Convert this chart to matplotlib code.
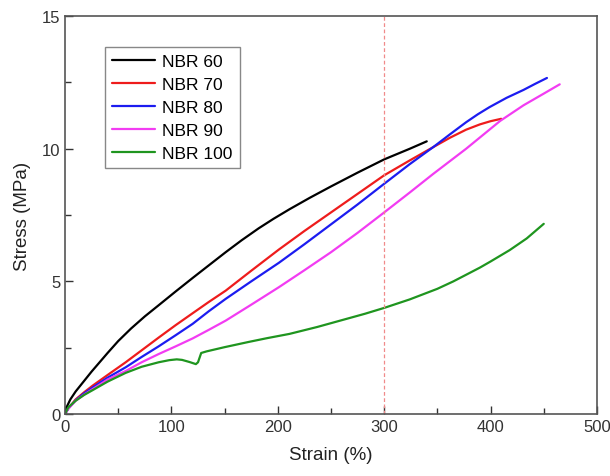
import numpy as np
import matplotlib
matplotlib.use("Agg")
import matplotlib.pyplot as plt
from matplotlib.ticker import MultipleLocator

plt.rcParams['font.family'] = ['Liberation Sans', 'DejaVu Sans']

# stress-strain curves
strain_60 = [0, 2, 5, 10, 17, 25, 40, 50, 62, 75, 88, 104, 120, 135, 151, 166, 182, 196,
             211, 230, 250, 275, 300, 324, 340]
stress_60 = [0, 0.3, 0.55, 0.85, 1.2, 1.6, 2.3, 2.75, 3.22, 3.68, 4.1, 4.62, 5.13, 5.6,
             6.1, 6.55, 7.0, 7.36, 7.72, 8.15, 8.58, 9.1, 9.6, 10.0, 10.28]

strain_70 = [0, 3, 10, 18, 26, 40, 57, 72, 88, 104, 120, 135, 151, 175, 201, 225, 250, 275,
             300, 324, 346, 362, 377, 390, 400, 410]
stress_70 = [0, 0.2, 0.55, 0.82, 1.07, 1.47, 1.95, 2.4, 2.88, 3.35, 3.8, 4.22, 4.65, 5.4,
             6.2, 6.9, 7.6, 8.3, 9.0, 9.56, 10.06, 10.42, 10.72, 10.92, 11.04, 11.13]

strain_80 = [0, 3, 10, 18, 26, 40, 57, 72, 88, 104, 120, 135, 151, 175, 201, 225, 250, 275,
             300, 324, 346, 362, 377, 388, 399, 415, 431, 442, 453]
stress_80 = [0, 0.2, 0.52, 0.78, 1.0, 1.37, 1.76, 2.15, 2.55, 2.97, 3.4, 3.87, 4.34, 5.0,
             5.7, 6.4, 7.15, 7.9, 8.68, 9.42, 10.06, 10.55, 11.0, 11.3, 11.57, 11.92, 12.22,
             12.45, 12.67]

strain_90 = [0, 3, 10, 18, 26, 40, 57, 72, 88, 104, 120, 135, 151, 175, 201, 225, 250, 275,
             300, 324, 346, 377, 409, 431, 450, 465]
stress_90 = [0, 0.2, 0.5, 0.73, 0.94, 1.3, 1.62, 1.95, 2.26, 2.55, 2.85, 3.17, 3.52, 4.12,
             4.78, 5.42, 6.1, 6.83, 7.6, 8.35, 9.05, 10.0, 11.05, 11.64, 12.08, 12.43]

strain_100 = [0, 3, 10, 18, 26, 40, 57, 72, 88, 98, 105, 110, 117, 123, 125, 128, 133, 150,
              173, 190, 211, 237, 264, 282, 300, 324, 350, 365, 378, 390, 400, 418, 434, 450]
stress_100 = [0, 0.25, 0.5, 0.72, 0.9, 1.22, 1.55, 1.78, 1.95, 2.03, 2.06, 2.04, 1.96, 1.88,
              1.95, 2.3, 2.36, 2.52, 2.72, 2.86, 3.02, 3.28, 3.58, 3.78, 4.0, 4.32, 4.72, 5.0,
              5.27, 5.52, 5.75, 6.18, 6.62, 7.17]

curves = [
    ("NBR 60", strain_60, stress_60, "black"),
    ("NBR 70", strain_70, stress_70, "#ee1c1c"),
    ("NBR 80", strain_80, stress_80, "#1c1cf0"),
    ("NBR 90", strain_90, stress_90, "#f23cf2"),
    ("NBR 100", strain_100, stress_100, "#1f951f"),
]

fig = plt.figure(figsize=(6.1, 4.77), dpi=100)
ax = fig.add_axes([0.1066, 0.13, 0.872, 0.834])

for name, x, y, c in curves:
    ax.plot(x, y, color=c, lw=1.6, label=name, solid_capstyle='round',
            solid_joinstyle='round')

ax.axvline(300, color="#f08a8a", lw=0.9, ls=(0, (3, 2)))

ax.set_xlim(0, 500)
ax.set_ylim(0, 15)
ax.xaxis.set_major_locator(MultipleLocator(100))
ax.xaxis.set_minor_locator(MultipleLocator(50))
ax.yaxis.set_major_locator(MultipleLocator(5))
ax.yaxis.set_minor_locator(MultipleLocator(2.5))
ax.tick_params(which='both', direction='in', colors='#333333', labelsize=12)
ax.tick_params(which='major', length=6, width=1)
ax.tick_params(which='minor', length=4, width=1)
for s in ax.spines.values():
    s.set_color('#555555')
    s.set_linewidth(1.2)

ax.set_xlabel("Strain (%)", fontsize=13.5, color='#222222', labelpad=9)
ax.set_ylabel("Stress (MPa)", fontsize=13.5, color='#222222', labelpad=8)

leg = ax.legend(loc='upper left', bbox_to_anchor=(0.075, 0.922), borderaxespad=0,
                fontsize=12.5, handlelength=2.5, labelspacing=0.45, fancybox=False,
                edgecolor='#888888', framealpha=1, handletextpad=0.4)
leg.get_frame().set_linewidth(1.0)

fig.savefig("out.png", dpi=100)
